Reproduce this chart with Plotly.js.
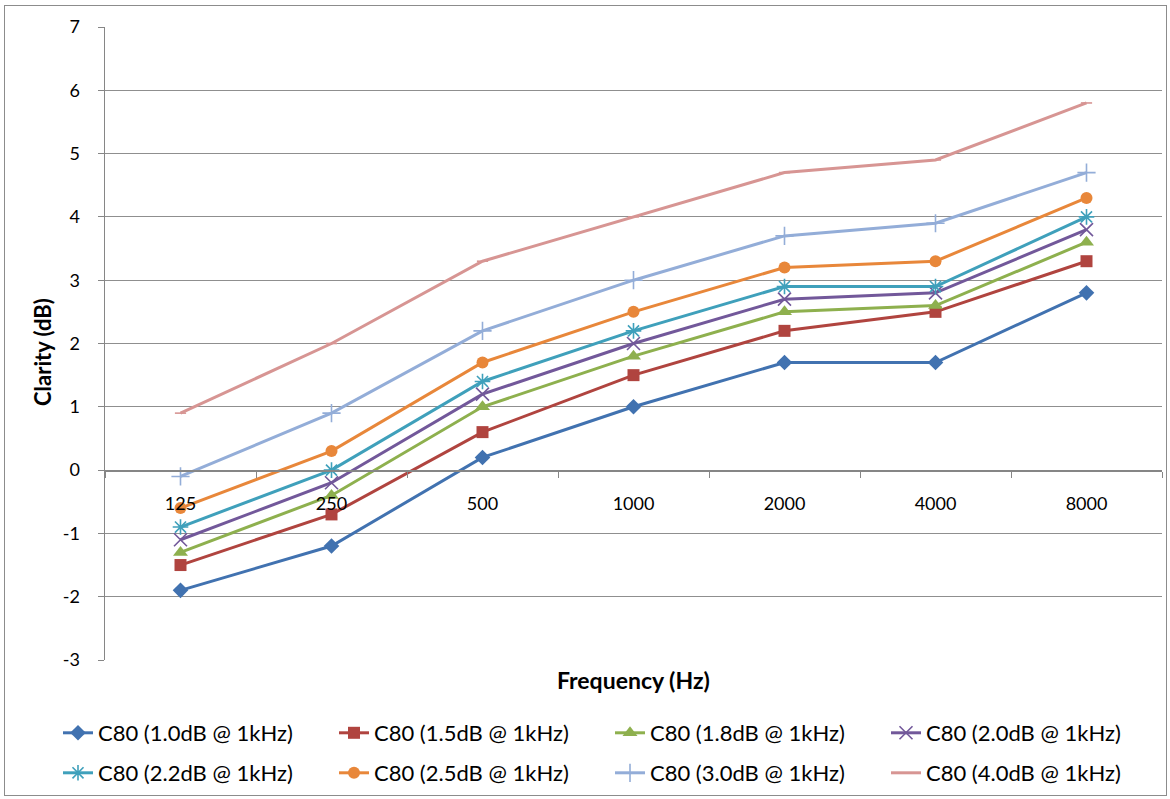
<!DOCTYPE html>
<html>
<head>
<meta charset="utf-8">
<script src="https://cdn.plot.ly/plotly-3.0.1.min.js"></script>
<style>
  html, body { margin: 0; padding: 0; background: #ffffff; }
  #frame { position: absolute; left: 4px; top: 5px; width: 1161px; height: 789px; border: 1px solid #8c8c8c; }
  #chart { position: absolute; left: 0; top: 0; width: 1170px; height: 799px; }
</style>
</head>
<body>
<div id="frame"></div>
<div id="chart"></div>
<script>
// Octave-band centre frequencies (Hz)
const frequencies = ['125', '250', '500', '1000', '2000', '4000', '8000'];

// Clarity axis ticks
const yTickValues = [-3, -2, -1, 0, 1, 2, 3, 4, 5, 6, 7];
const yTickLabels = ['-3', '-2', '-1', '0', '1', '2', '3', '4', '5', '6', '7'];

// C80 clarity per band for each 1 kHz reference level
const c80_10 = [-1.9, -1.2, 0.2, 1.0, 1.7, 1.7, 2.8];
const c80_15 = [-1.5, -0.7, 0.6, 1.5, 2.2, 2.5, 3.3];
const c80_18 = [-1.3, -0.4, 1.0, 1.8, 2.5, 2.6, 3.6];
const c80_20 = [-1.1, -0.2, 1.2, 2.0, 2.7, 2.8, 3.8];
const c80_22 = [-0.9, 0.0, 1.4, 2.2, 2.9, 2.9, 4.0];
const c80_25 = [-0.6, 0.3, 1.7, 2.5, 3.2, 3.3, 4.3];
const c80_30 = [-0.1, 0.9, 2.2, 3.0, 3.7, 3.9, 4.7];
const c80_40 = [0.9, 2.0, 3.3, 4.0, 4.7, 4.9, 5.8];

const seriesNames = [
  'C80 (1.0dB @ 1kHz)', 'C80 (1.5dB @ 1kHz)', 'C80 (1.8dB @ 1kHz)', 'C80 (2.0dB @ 1kHz)',
  'C80 (2.2dB @ 1kHz)', 'C80 (2.5dB @ 1kHz)', 'C80 (3.0dB @ 1kHz)', 'C80 (4.0dB @ 1kHz)'
];
const seriesValues = [c80_10, c80_15, c80_18, c80_20, c80_22, c80_25, c80_30, c80_40];

const colors = ['#4172b0', '#b0443f', '#8eb04e', '#72589a', '#3fa0bb', '#e8873a', '#93add8', '#d79593'];
const symbols = ['diamond', 'square', 'triangle-up', 'x-thin-open', 'asterisk-open', 'circle', 'cross-thin-open', 'line-ew-open'];
const sizes = [12, 12, 13, 13, 13, 12, 13, 8];

const FONT = 'Lato, "Open Sans", sans-serif';

const traces = seriesNames.map((name, i) => ({
  type: 'scatter',
  mode: 'lines+markers',
  name: name,
  x: frequencies,
  y: seriesValues[i],
  legend: i < 4 ? 'legend' : 'legend2',
  line: { color: colors[i], width: 3 },
  marker: {
    symbol: symbols[i],
    size: sizes[i],
    color: colors[i],
    line: { color: colors[i], width: symbols[i].endsWith('open') ? 1.6 : 0 }
  }
}));

// Legend rows sit below the plot, starting left of it, so they may use the full chart width
const legendCommon = {
  orientation: 'h',
  xref: 'paper', yref: 'paper',
  xanchor: 'left', yanchor: 'middle',
  entrywidth: 231, entrywidthmode: 'pixels',
  font: { family: FONT, size: 22, color: '#000' },
  bgcolor: 'rgba(0,0,0,0)',
  itemclick: false
};

const layout = {
  width: 1170,
  height: 799,
  margin: { l: 105, r: 8, t: 27, b: 139, autoexpand: false },
  paper_bgcolor: 'rgba(0,0,0,0)',
  plot_bgcolor: '#ffffff',
  font: { family: FONT, size: 18, color: '#000' },
  showlegend: true,
  legend: Object.assign({}, legendCommon, { x: (58 - 105) / 1057, y: (660 - 733) / 633 }),
  legend2: Object.assign({}, legendCommon, { x: (58 - 105) / 1057, y: (660 - 773) / 633 }),
  xaxis: {
    type: 'category',
    anchor: 'free',
    position: 0.3,
    range: [-0.5, 6.5],
    showgrid: false,
    zeroline: false,
    showline: true,
    linecolor: '#868686',
    linewidth: 1.5,
    ticks: 'outside',
    tickson: 'boundaries',
    ticklen: 6,
    tickcolor: '#868686',
    ticklabelstandoff: 17,
    tickfont: { family: FONT, size: 18, color: '#000' }
  },
  yaxis: {
    range: [-3, 7],
    tickmode: 'array',
    tickvals: yTickValues,
    ticktext: yTickLabels,
    showgrid: true,
    gridcolor: '#8f8f8f',
    gridwidth: 1,
    zeroline: false,
    showline: true,
    linecolor: '#868686',
    linewidth: 1.5,
    ticks: 'outside',
    ticklen: 6,
    tickcolor: '#868686',
    ticklabelstandoff: 14,
    tickfont: { family: FONT, size: 18, color: '#000' }
  },
  annotations: [
    {
      text: '<b>Frequency (Hz)</b>',
      xref: 'paper', yref: 'paper',
      x: (633 - 105) / 1057, y: -(680 - 660) / 633,
      xanchor: 'center', yanchor: 'middle',
      showarrow: false,
      font: { family: FONT, size: 23, color: '#000' }
    },
    {
      text: '<b>Clarity (dB)</b>',
      xref: 'paper', yref: 'paper',
      x: (42 - 105) / 1057, y: (660 - 352) / 633,
      xanchor: 'center', yanchor: 'middle',
      textangle: -90,
      showarrow: false,
      font: { family: FONT, size: 22, color: '#000' }
    }
  ]
};

Plotly.newPlot('chart', traces, layout, { staticPlot: true, displayModeBar: false });
</script>
</body>
</html>
